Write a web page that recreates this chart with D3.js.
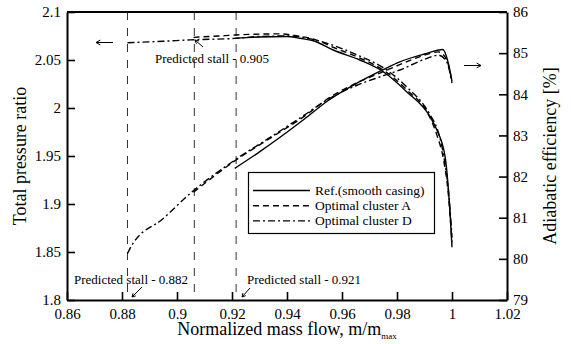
<!DOCTYPE html>
<html>
<head>
<meta charset="utf-8">
<script src="https://cdn.jsdelivr.net/npm/d3@7"></script>
</head>
<body style="margin:0">
<script>
// tick values
const xTicks = [0.86, 0.88, 0.9, 0.92, 0.94, 0.96, 0.98, 1, 1.02];
const prTicks = [1.8, 1.85, 1.9, 1.95, 2, 2.05, 2.1];
const effTicks = [79, 80, 81, 82, 83, 84, 85, 86];

// total pressure ratio (left axis)
const prRefFlow = [0.921, 0.93, 0.94, 0.9447, 0.9496, 0.9568, 0.9665, 0.975, 0.9835, 0.992, 0.9945, 0.9975, 0.9985, 0.9993, 1.0];
const prRef     = [2.0725, 2.074, 2.0745, 2.0726, 2.0701, 2.0604, 2.05, 2.0378, 2.017, 1.991, 1.977, 1.949, 1.922, 1.89, 1.855];
const prAFlow = [0.906, 0.915, 0.921, 0.93, 0.937, 0.945, 0.95, 0.957, 0.9665, 0.975, 0.9835, 0.992, 0.9945, 0.997, 0.9985, 1.0];
const prA     = [2.0736, 2.075, 2.076, 2.077, 2.0772, 2.0745, 2.0715, 2.063, 2.052, 2.0395, 2.019, 1.99, 1.972, 1.945, 1.915, 1.86];
const prDFlow = [0.882, 0.895, 0.905, 0.921, 0.93, 0.94, 0.947, 0.955, 0.9665, 0.975, 0.9835, 0.992, 0.995, 0.997, 0.999, 1.0];
const prD     = [2.068, 2.0695, 2.071, 2.0725, 2.0745, 2.075, 2.073, 2.067, 2.054, 2.042, 2.022, 1.993, 1.975, 1.95, 1.905, 1.865];

// adiabatic efficiency (right axis)
const effRefFlow = [0.921, 0.93, 0.946, 0.955, 0.9654, 0.975, 0.981, 0.99, 0.9967, 0.9985, 1.0];
const effRef     = [82.2, 82.6, 83.38, 83.85, 84.27, 84.6, 84.79, 84.98, 85.09, 84.8, 84.32];
const effAFlow = [0.906, 0.921, 0.935, 0.946, 0.955, 0.9654, 0.975, 0.981, 0.99, 0.995, 0.998, 1.0];
const effA     = [81.62, 82.38, 82.98, 83.45, 83.9, 84.28, 84.55, 84.72, 84.95, 85.03, 84.85, 84.3];
const effDFlow = [0.882, 0.8835, 0.895, 0.905, 0.921, 0.935, 0.946, 0.955, 0.9654, 0.975, 0.981, 0.99, 0.995, 0.998, 1.0];
const effD     = [80.13, 80.32, 80.98, 81.6, 82.4, 83.0, 83.48, 83.88, 84.22, 84.45, 84.59, 84.85, 84.95, 84.8, 84.27];

// predicted stall points
const stallFlow = [0.882, 0.9063, 0.9215];
const stallLabels = ["Predicted stall - 0.882", "Predicted stall - 0.905", "Predicted stall - 0.921"];

const legendNames = ["Ref.(smooth casing)", "Optimal cluster A", "Optimal cluster D"];
const dashes = [null, "6,4", "7,3,2,3"];

const serif = "Liberation Serif";
const width = 571;
const height = 344;
const margin = { top: 12, left: 67, bottom: 44, right: 64 };
const iwidth = width - margin.left - margin.right;
const iheight = height - margin.top - margin.bottom;

const svg = d3.select("body").append("svg")
    .attr("width", width)
    .attr("height", height)
    .attr("font-family", serif);

const g = svg.append("g")
    .attr("transform", `translate(${margin.left}, ${margin.top})`);

const x = d3.scaleLinear().domain([0.86, 1.02]).range([0, iwidth]);
const yL = d3.scaleLinear().domain([1.8, 2.1]).range([iheight, 0]);
const yR = d3.scaleLinear().domain([79, 86]).range([iheight, 0]);

// stall lines
g.selectAll(".stall").data(stallFlow).enter()
    .append("line")
    .attr("x1", d => x(d)).attr("x2", d => x(d))
    .attr("y1", 0).attr("y2", iheight)
    .attr("stroke", "#333")
    .attr("stroke-width", 1)
    .attr("stroke-dasharray", "8,8");

// curves
const zip = (a, b) => a.map((v, i) => [v, b[i]]);
const prLine = d3.line().x(d => x(d[0])).y(d => yL(d[1])).curve(d3.curveMonotoneX);
const effLine = d3.line().x(d => x(d[0])).y(d => yR(d[1])).curve(d3.curveMonotoneX);

const prSeries = [zip(prRefFlow, prRef), zip(prAFlow, prA), zip(prDFlow, prD)];
const effSeries = [zip(effRefFlow, effRef), zip(effAFlow, effA), zip(effDFlow, effD)];

prSeries.forEach((s, i) => {
    g.append("path").attr("d", prLine(s))
        .attr("fill", "none").attr("stroke", "#000").attr("stroke-width", 1.4)
        .attr("stroke-dasharray", dashes[i]);
});
effSeries.forEach((s, i) => {
    g.append("path").attr("d", effLine(s))
        .attr("fill", "none").attr("stroke", "#000").attr("stroke-width", 1.4)
        .attr("stroke-dasharray", dashes[i]);
});

// axes
const fmt = d3.format("");
const xAxis = g.append("g")
    .attr("transform", `translate(0, ${iheight})`)
    .call(d3.axisBottom(x).tickValues(xTicks).tickFormat(fmt).tickSizeInner(-8).tickSizeOuter(0).tickPadding(8));
const lAxis = g.append("g")
    .call(d3.axisLeft(yL).tickValues(prTicks).tickFormat(fmt).tickSizeInner(-8).tickSizeOuter(0).tickPadding(6));
const rAxis = g.append("g")
    .attr("transform", `translate(${iwidth}, 0)`)
    .call(d3.axisRight(yR).tickValues(effTicks).tickFormat(fmt).tickSizeInner(-8).tickSizeOuter(0).tickPadding(6));

[xAxis, lAxis, rAxis].forEach(a => {
    a.attr("font-family", serif).attr("font-size", 15);
    a.select(".domain").attr("stroke-width", 2);
    a.selectAll(".tick line").attr("stroke-width", 1.6);
    a.selectAll("text").attr("fill", "#000");
});

g.append("line")
    .attr("x1", 0).attr("x2", iwidth).attr("y1", 0).attr("y2", 0)
    .attr("stroke", "#000").attr("stroke-width", 2);

// axis titles
const xt = svg.append("text")
    .attr("x", margin.left + iwidth / 2)
    .attr("y", 335)
    .attr("text-anchor", "middle")
    .attr("font-size", 18)
    .text("Normalized mass flow, m/m");
xt.append("tspan").attr("font-size", 9).attr("dy", 4).text("max");

svg.append("text")
    .attr("transform", `translate(26, ${margin.top + iheight / 2}) rotate(-90)`)
    .attr("text-anchor", "middle")
    .attr("font-size", 18)
    .text("Total pressure ratio");

svg.append("text")
    .attr("transform", `translate(556, ${margin.top + iheight / 2}) rotate(-90)`)
    .attr("text-anchor", "middle")
    .attr("font-size", 18)
    .text("Adiabatic efficiency [%]");

// stall labels
const labelPos = [[74, 284], [155, 63], [247, 284]];
stallLabels.forEach((t, i) => {
    svg.append("text")
        .attr("x", labelPos[i][0]).attr("y", labelPos[i][1])
        .attr("font-size", 13)
        .text(t);
});

// small arrows pointing to stall points
function arrow(x1, y1, x2, y2, head) {
    const a = Math.atan2(y2 - y1, x2 - x1);
    const p = d3.path();
    p.moveTo(x1, y1); p.lineTo(x2, y2);
    p.moveTo(x2 - head * Math.cos(a - 0.5), y2 - head * Math.sin(a - 0.5));
    p.lineTo(x2, y2);
    p.lineTo(x2 - head * Math.cos(a + 0.5), y2 - head * Math.sin(a + 0.5));
    svg.append("path").attr("d", p.toString())
        .attr("fill", "none").attr("stroke", "#000").attr("stroke-width", 1);
}
arrow(142, 287, 132, 297, 4);
arrow(203, 47, 195, 40, 4);
arrow(250, 288, 242, 297, 4);
arrow(113, 42.5, 96, 42.5, 5);
arrow(464, 65.5, 481, 65.5, 5);

// legend
const lg = svg.append("g");
lg.append("rect")
    .attr("x", 248.5).attr("y", 172.5)
    .attr("width", 186).attr("height", 61)
    .attr("fill", "#fff").attr("stroke", "#000").attr("stroke-width", 1.2);
legendNames.forEach((n, i) => {
    const yy = 190.5 + i * 15.2;
    lg.append("line")
        .attr("x1", 253).attr("x2", 310).attr("y1", yy).attr("y2", yy)
        .attr("stroke", "#000").attr("stroke-width", 1.4)
        .attr("stroke-dasharray", dashes[i]);
    lg.append("text")
        .attr("x", 315).attr("y", yy + 4.5)
        .attr("font-size", 13.5)
        .text(n);
});

svg.selectAll("text").style("font-family", serif, "important");
</script>
</body>
</html>
